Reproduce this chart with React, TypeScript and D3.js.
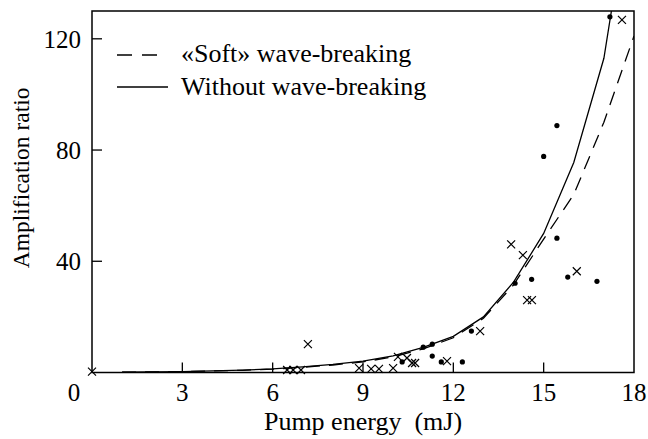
import React from 'react';
import * as d3 from 'd3';

// curve "Without wave-breaking"
const solidEnergy = [1, 2, 3, 4, 5, 6, 7, 8, 9, 10, 11, 12, 13, 14, 15, 16, 17, 17.25];
const solidRatio = [0.1, 0.2, 0.35, 0.55, 0.85, 1.3, 2, 2.9, 4.1, 6, 9, 13, 20, 32.5, 50, 75.5, 113, 130];

// curve "«Soft» wave-breaking"
const softEnergy = [1, 2, 3, 4, 5, 6, 7, 8, 9, 10, 11, 12, 13, 14, 15, 16, 17, 18];
const softRatio = [0.1, 0.2, 0.35, 0.55, 0.8, 1.2, 1.9, 2.7, 3.8, 5.6, 8.5, 12.5, 19.5, 31.5, 48, 64, 90, 121];

// measured points (dots)
const dotEnergy = [10.3, 11.0, 11.3, 11.3, 11.6, 12.3, 12.6, 14.05, 14.6, 15.44, 15.8, 16.77, 15.44, 15.0, 17.2];
const dotRatio = [3.8, 9.1, 10.2, 5.9, 3.8, 3.8, 14.9, 32.1, 33.5, 48.3, 34.3, 32.8, 88.8, 77.7, 127.9];

// measured points (crosses)
const crossEnergy = [0, 6.48, 6.68, 6.94, 7.17, 8.87, 9.27, 9.53, 10.0, 10.16, 10.46, 10.63, 10.73, 11.79, 12.89, 13.92, 14.31, 14.45, 14.61, 16.1, 17.6];
const crossRatio = [0.3, 0.9, 0.9, 0.9, 10.2, 1.6, 1.3, 1.3, 1.6, 5.6, 5.2, 3.4, 3.4, 4.1, 14.9, 46.1, 42.2, 26.0, 26.0, 36.4, 126.8];

const xTicks = [0, 3, 6, 9, 12, 15, 18];
const yTicks = [40, 80, 120];

const legendLabels = ['«Soft» wave-breaking', 'Without wave-breaking'];

const width = 648;
const height = 439;
const margin = { top: 11, right: 14, bottom: 66.5, left: 92 };
const font = 'Liberation Serif';

const App = () => {
  const x = d3.scaleLinear().domain([0, 18]).range([margin.left, width - margin.right]);
  const y = d3.scaleLinear().domain([0, 130]).range([height - margin.bottom, margin.top]);

  const line = d3.line<[number, number]>()
    .x(d => x(d[0]))
    .y(d => y(d[1]));

  const softPath = line(softEnergy.map((e, i) => [e, softRatio[i]]));
  const solidPath = line(solidEnergy.map((e, i) => [e, solidRatio[i]]));

  const s = 4;
  const crossPath = (e: number, r: number) => {
    const cx = x(e);
    const cy = y(r);
    return `M${cx - s},${cy - s}L${cx + s},${cy + s}M${cx - s},${cy + s}L${cx + s},${cy - s}`;
  };

  return (
    <svg
      width={width}
      height={height}
      style={{ position: 'absolute', left: 0, top: 0, background: '#fff' }}
    >
      <defs>
        <clipPath id="plot-clip">
          <rect x={x(0)} y={y(130)} width={x(18) - x(0)} height={y(0) - y(130)} />
        </clipPath>
      </defs>

      {/* frame */}
      <rect
        x={x(0)} y={y(130)}
        width={x(18) - x(0)} height={y(0) - y(130)}
        fill="none" stroke="#000" strokeWidth={1.5}
      />

      {/* inward ticks */}
      {xTicks.filter(d => d > 0 && d < 18).map(d => (
        <line key={'xt' + d} x1={x(d)} x2={x(d)} y1={y(0)} y2={y(0) - 10} stroke="#000" strokeWidth={1.3} />
      ))}
      {yTicks.map(d => (
        <line key={'yt' + d} x1={x(0)} x2={x(0) + 10} y1={y(d)} y2={y(d)} stroke="#000" strokeWidth={1.3} />
      ))}

      {/* tick labels */}
      {xTicks.map(d => (
        <text
          key={'xl' + d}
          x={d === 0 ? x(d) - 18 : x(d)}
          y={y(0) + 28}
          textAnchor="middle"
          fontFamily={font}
          fontSize={25}
        >
          {d}
        </text>
      ))}
      {yTicks.map(d => (
        <text
          key={'yl' + d}
          x={x(0) - 11}
          y={y(d)}
          dy="0.35em"
          textAnchor="end"
          fontFamily={font}
          fontSize={25}
        >
          {d}
        </text>
      ))}

      {/* axis titles */}
      <text
        x={x(9)} y={height - 9}
        textAnchor="middle" fontFamily={font} fontSize={26}
        style={{ whiteSpace: 'pre' }}
      >
        {'Pump energy  (mJ)'}
      </text>
      <text
        transform={`translate(29, ${y(70)}) rotate(-90)`}
        textAnchor="middle" fontFamily={font} fontSize={23.5}
      >
        Amplification ratio
      </text>

      {/* curves */}
      <path
        d={softPath} fill="none" stroke="#000" strokeWidth={1.3}
        strokeDasharray="14,9" clipPath="url(#plot-clip)"
      />
      <path
        d={solidPath} fill="none" stroke="#000" strokeWidth={1.3}
        clipPath="url(#plot-clip)"
      />

      {/* points */}
      {dotEnergy.map((e, i) => (
        <circle key={'d' + i} cx={x(e)} cy={y(dotRatio[i])} r={2.6} fill="#000" />
      ))}
      {crossEnergy.map((e, i) => (
        <path key={'c' + i} d={crossPath(e, crossRatio[i])} stroke="#000" strokeWidth={1.2} fill="none" />
      ))}

      {/* legend */}
      <line x1={117} x2={166} y1={55} y2={55} stroke="#000" strokeWidth={1.3} strokeDasharray="15,10" />
      <line x1={117} x2={168} y1={87} y2={87} stroke="#000" strokeWidth={1.3} />
      {legendLabels.map((d, i) => (
        <text key={d} x={181} y={62 + i * 33} fontFamily={font} fontSize={26}>
          {d}
        </text>
      ))}
    </svg>
  );
};

export default App;
